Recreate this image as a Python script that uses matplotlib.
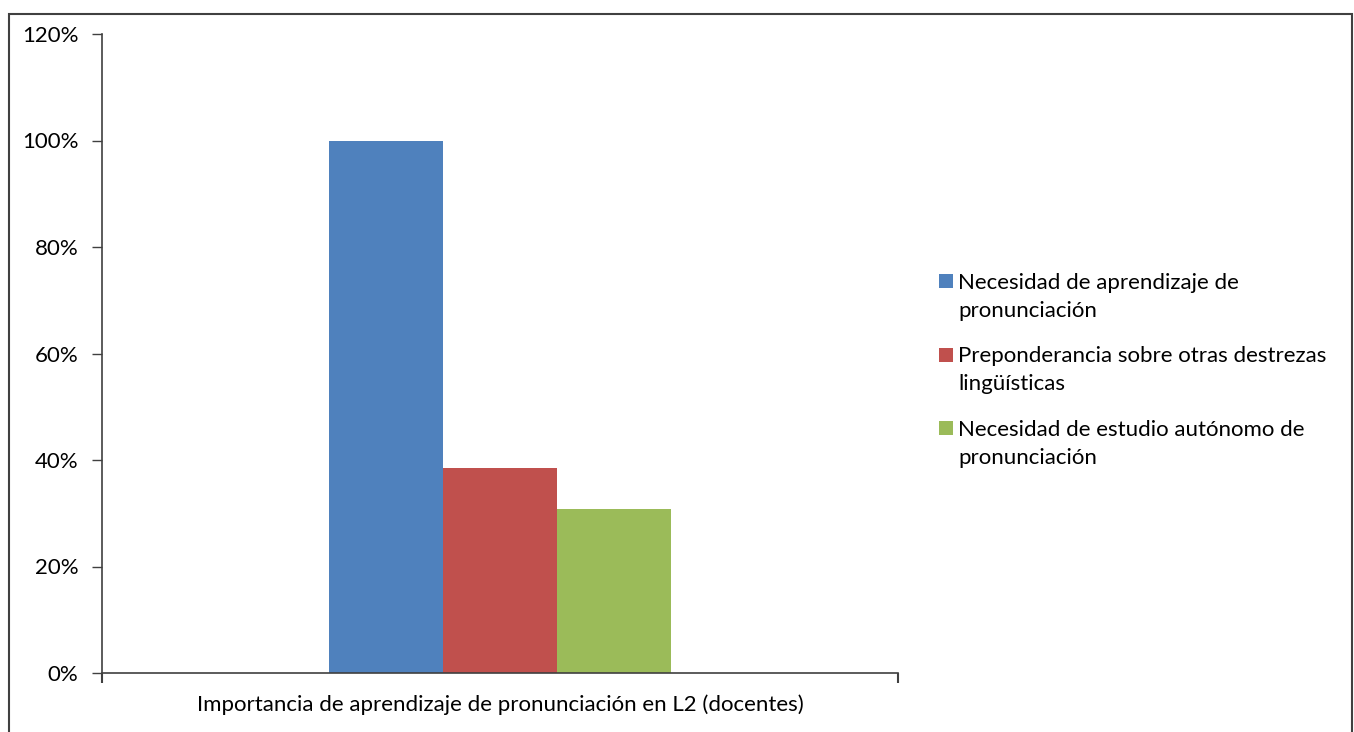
"""
Importancia de aprendizaje de pronunciación (docentes) - bar chart
"""

import matplotlib.pyplot as plt
from matplotlib.patches import Rectangle
from matplotlib.ticker import PercentFormatter

category = "Importancia de aprendizaje de pronunciación en L2 (docentes)"
series_labels = [
    "Necesidad de aprendizaje de\npronunciación",
    "Preponderancia sobre otras destrezas\nlingüísticas",
    "Necesidad de estudio autónomo de\npronunciación",
]
values = [100.0, 38.46, 30.77]
colors = ["#4f81bd", "#c0504d", "#9bbb59"]

plt.rcParams["font.family"] = ["Lato", "DejaVu Sans"]
plt.rcParams["font.size"] = 16

W, H = 1354, 732
fig = plt.figure(figsize=(W / 100, H / 100), dpi=100)
ax = fig.add_axes([102 / W, 1 - 673 / H, 796 / W, 639 / H])

bar_w = 0.1432
offsets = [-bar_w, 0, bar_w]
for off, v, c in zip(offsets, values, colors):
    ax.bar(off, v, width=bar_w, color=c, linewidth=0)

ax.set_xlim(-0.5, 0.5)
ax.set_ylim(0, 120)
ax.set_yticks(range(0, 121, 20))
ax.yaxis.set_major_formatter(PercentFormatter(decimals=0))
ax.set_xticks([-0.5, 0.5])
ax.set_xticklabels([])
ax.tick_params(axis="y", direction="out", length=7, width=1, color="#404040",
               labelcolor="black", pad=10)
ax.tick_params(axis="x", direction="out", length=7, width=1.5, color="#404040")
ax.text(0.5, -0.033, category, transform=ax.transAxes, ha="center", va="top")

for side in ["top", "right"]:
    ax.spines[side].set_visible(False)
for side in ["left", "bottom"]:
    ax.spines[side].set_color("#404040")
    ax.spines[side].set_linewidth(1.2)

# legend: square aligned to the first line of each wrapped label
first_line_y = 281
for i, (lab, c) in enumerate(zip(series_labels, colors)):
    yc = first_line_y + i * 73.5
    fig.patches.append(Rectangle((939 / W, 1 - (yc + 7) / H), 14 / W, 14 / H,
                                 transform=fig.transFigure, facecolor=c,
                                 edgecolor="none"))
    fig.text(958 / W, 1 - (yc - 8) / H, lab, ha="left", va="top",
             linespacing=1.5)

# outer chart border
fig.patches.append(Rectangle((9 / W, -0.01), 1343 / W, 1 - 14 / H + 0.01,
                             transform=fig.transFigure, fill=False,
                             edgecolor="#404040", linewidth=1.5))

plt.savefig("out.png", dpi=100)
